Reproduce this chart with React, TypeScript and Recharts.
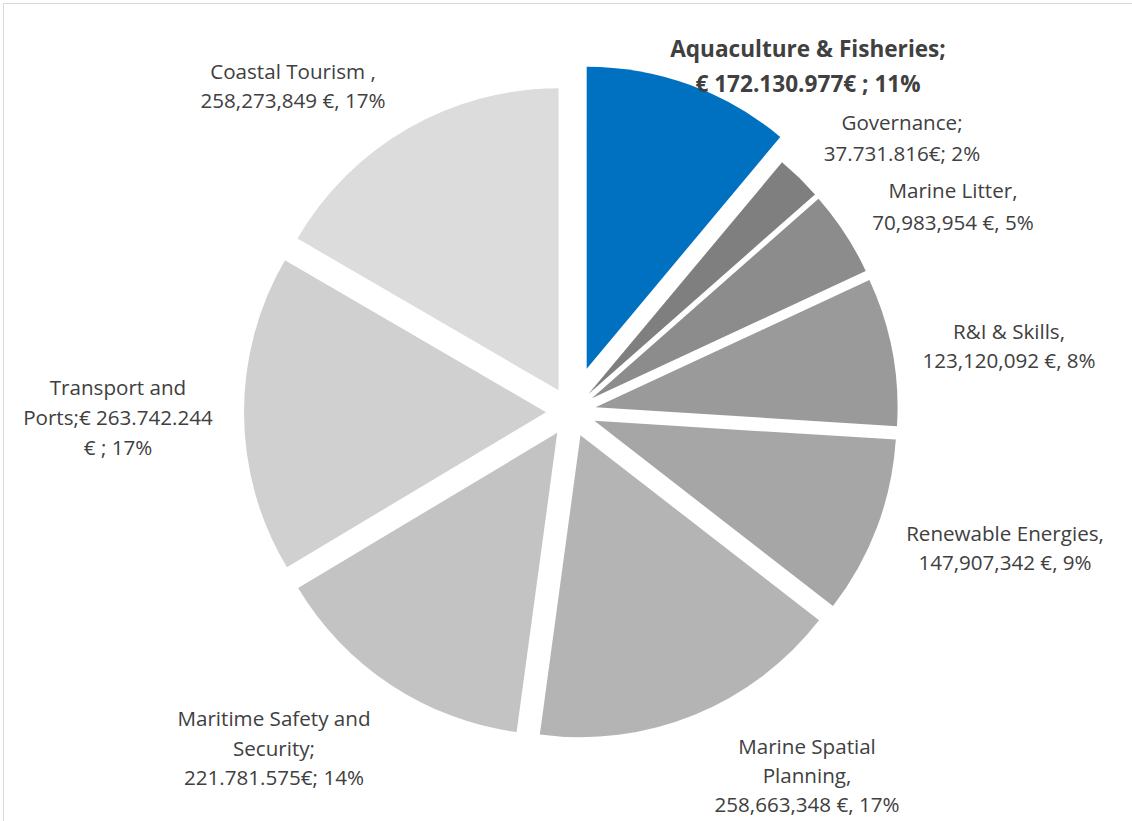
import React from 'react';
import { PieChart, Pie, Cell } from 'recharts';

// Sector names and amounts (€), clockwise from 12 o'clock
const categories = [
  'Aquaculture & Fisheries',
  'Governance',
  'Marine Litter',
  'R&I & Skills',
  'Renewable Energies',
  'Marine Spatial Planning',
  'Maritime Safety and Security',
  'Transport and Ports',
  'Coastal Tourism',
];
const amounts = [
  172130977, 37731816, 70983954, 123120092, 147907342,
  258663348, 221781575, 263742244, 258273849,
];

// data label text as it appears in the chart
const labelLines = [
  ['Aquaculture & Fisheries;', '€ 172.130.977€ ; 11%'],
  ['Governance;', '37.731.816€; 2%'],
  ['Marine Litter,', '70,983,954 €, 5%'],
  ['R&I & Skills,', '123,120,092 €, 8%'],
  ['Renewable Energies,', '147,907,342 €, 9%'],
  ['Marine Spatial', 'Planning,', '258,663,348 €, 17%'],
  ['Maritime Safety and', 'Security;', '221.781.575€; 14%'],
  ['Transport and', 'Ports;€ 263.742.244', '€ ; 17%'],
  ['Coastal Tourism ,', '258,273,849 €, 17%'],
];

const colors = ['#0070C0', '#7F7F7F', '#8C8C8C', '#9A9A9A', '#A6A6A6', '#B4B4B4', '#C3C3C3', '#D0D0D0', '#DCDCDC'];

// layout
const W = 1132;
const H = 821;
const CX = 571;
const CY = 412;
const R = 302;
const explode = [46, 25, 25, 25, 25, 25, 25, 25, 25];
// label block: centre x offset, first line y offset (from pie centre), line gap
const labelPos = [
  [237, -364, 35],
  [331, -290, 31],
  [382, -222, 32],
  [438, -81, 29],
  [434, 121, 29],
  [236, 334, 29],
  [-297, 306, 29.5],
  [-453, -25, 30],
  [-278, -341, 29],
];

const data = categories.map((name, i) => ({ name, value: amounts[i] }));
const total = amounts.reduce((a, b) => a + b, 0);

// mid angle of each slice, degrees clockwise from 12 o'clock
const midAngles = amounts.map((v, i) => {
  const before = amounts.slice(0, i).reduce((a, b) => a + b, 0);
  return ((before + v / 2) / total) * 360;
});

const renderLabel = (slice: number) => (props: any) => {
  if (props.index !== slice) return <g />;
  const [dx, dy, gap] = labelPos[slice];
  const bold = slice === 0;
  return (
    <text
      fill="#404040"
      fontFamily="'Open Sans', sans-serif"
      fontSize={bold ? 22.6 : 20.6}
      fontWeight={bold ? 700 : 400}
      textAnchor="middle"
      dominantBaseline="central"
    >
      {labelLines[slice].map((line, k) => (
        <tspan key={k} x={CX + dx} y={CY + dy + k * gap} dominantBaseline="central">
          {line}
        </tspan>
      ))}
    </text>
  );
};

const App: React.FC = () => {
  return (
    <div style={{ position: 'absolute', left: 0, top: 0, width: W, height: H, overflow: 'hidden', background: '#fff' }}>
      <div
        style={{
          position: 'absolute',
          left: 3,
          top: 3,
          width: W + 40,
          height: H + 40,
          border: '1.5px solid #D9D9D9',
        }}
      />
      <PieChart width={W} height={H} margin={{ top: 0, right: 0, bottom: 0, left: 0 }}>
        {/* one pie per slice so each slice can be pulled out on its own */}
        {data.map((_, s) => {
          const a = (midAngles[s] * Math.PI) / 180;
          return (
            <Pie
              key={s}
              data={data}
              dataKey="value"
              nameKey="name"
              cx={CX + explode[s] * Math.sin(a)}
              cy={CY - explode[s] * Math.cos(a)}
              outerRadius={R}
              startAngle={90}
              endAngle={-270}
              stroke="none"
              isAnimationActive={false}
              labelLine={false}
              label={renderLabel(s)}
            >
              {data.map((__, i) => (
                <Cell key={i} fill={i === s ? colors[i] : 'transparent'} stroke="none" />
              ))}
            </Pie>
          );
        })}
      </PieChart>
    </div>
  );
};

export default App;
